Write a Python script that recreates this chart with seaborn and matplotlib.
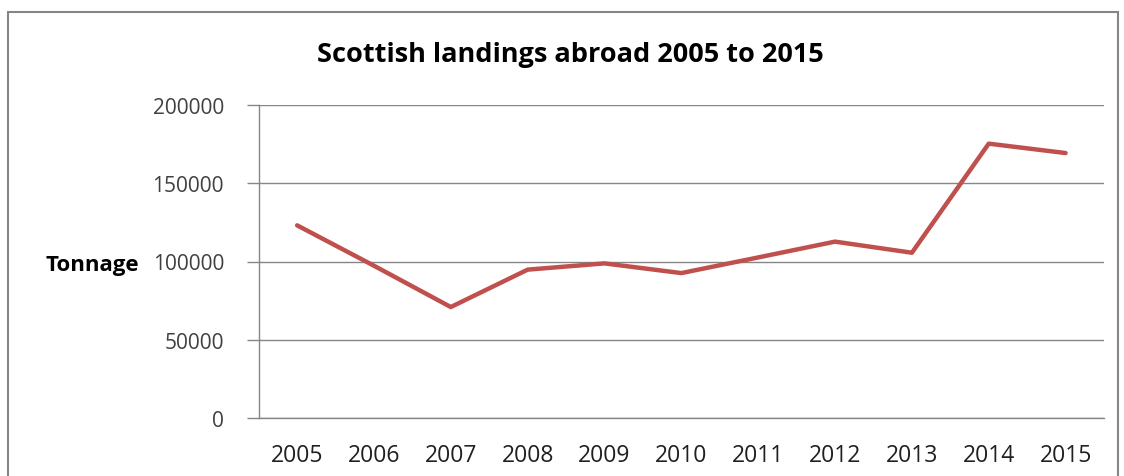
import matplotlib
matplotlib.use('Agg')
import matplotlib.pyplot as plt
import numpy as np
import pandas as pd
import seaborn as sns
from matplotlib.patches import Rectangle

years = ['2005', '2006', '2007', '2008', '2009', '2010',
         '2011', '2012', '2013', '2014', '2015']
tonnage = [123100, 97300, 70900, 94800, 98800, 92600,
           102600, 112700, 105600, 175300, 169300]
yticks = [0, 50000, 100000, 150000, 200000]

df = pd.DataFrame({'Year': years, 'Tonnage': tonnage})

sns.set_theme(style='white')
plt.rcParams['font.family'] = ['Open Sans', 'DejaVu Sans']

fig = plt.figure(figsize=(11.24, 4.77), dpi=100)
ax = fig.add_axes([258.7 / 1124, 1 - 419 / 477, (1104 - 258.7) / 1124, (419 - 106) / 477])

# outer chart border
fig.patches.append(Rectangle((8 / 1124, -0.1), (1118 - 8) / 1124, 1.1 - 13 / 477,
                             transform=fig.transFigure, fill=False,
                             edgecolor='#868686', linewidth=1.5))

pos = np.arange(len(years))
sns.lineplot(x=pos, y=df['Tonnage'], ax=ax, color='#C0504D', linewidth=3.2,
             solid_capstyle='round')

ax.set_xlim(-0.5, len(years) - 0.5)
ax.set_ylim(0, 200000)
ax.set_yticks(yticks)
ax.set_yticklabels([str(v) for v in yticks], fontsize=15, color='#404040')
ax.set_xticks(pos)
ax.set_xticklabels(years, fontsize=16.5, color='#202020')
ax.set_xticks(np.arange(-0.5, len(years)), minor=True)
ax.tick_params(axis='x', which='major', length=0, pad=18)
ax.tick_params(axis='x', which='minor', length=9, width=1, color='#868686', direction='out')
ax.tick_params(axis='y', length=9, width=1, color='#868686', direction='out', pad=16, left=True)

ax.grid(axis='y', color='#868686', linewidth=1)
ax.set_axisbelow(True)
for s in ['top', 'right']:
    ax.spines[s].set_visible(False)
for s in ['left', 'bottom']:
    ax.spines[s].set_color('#868686')
    ax.spines[s].set_linewidth(1)

ax.set_xlabel('')
ax.set_ylabel('')
fig.text(92 / 1124, 1 - 265 / 477, 'Tonnage', ha='center', va='center',
         fontsize=16, fontweight='bold', color='black')

fig.text(570 / 1124, 1 - 55 / 477, 'Scottish landings abroad 2005 to 2015',
         ha='center', va='center', fontsize=19.5, fontweight='bold', color='black')

fig.savefig('out.png', dpi=100)
